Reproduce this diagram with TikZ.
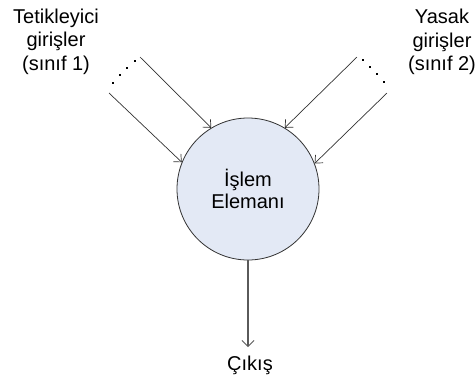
\documentclass[tikz,border=0pt]{standalone}
\usepackage{fontspec}
\setmainfont{Liberation Sans}
\usetikzlibrary{arrows.meta}
\definecolor{peFill}{RGB}{227,233,245}
\definecolor{lineGray}{RGB}{50,50,50}
\definecolor{outGray}{RGB}{90,90,90}
\tikzset{
  label text/.style={align=center, inner sep=0pt, font=\fontsize{20}{23.5}\selectfont},
  unit/.style={circle, draw=lineGray, line width=0.8pt, fill=peFill,
    minimum size=142pt, inner sep=0pt, align=center,
    font=\fontsize{20}{22}\selectfont},
  feed/.style={draw=lineGray, line width=0.7pt,
    -{Straight Barb[length=6pt,width=11pt,line width=0.7pt]}},
  outflow/.style={draw=outGray, line width=1.2pt,
    -{Straight Barb[length=6pt,width=12pt,line width=0.8pt]}},
  dotmark/.style={fill=black}
}
\begin{document}
\begin{tikzpicture}[x=1pt,y=-1pt]
\useasboundingbox (0,0) rectangle (475,381);

% processing element
\node[unit] (pe) at (248,189) {İşlem\\Elemanı};

% input group labels
\node[label text, anchor=north] (trig) at (56,8.5) {Tetikleyici\\girişler\\(sınıf 1)};
\node[label text, anchor=north] (forb) at (442,9) {Yasak\\girişler\\(sınıf 2)};

% output label
\node[label text, anchor=north] (out) at (250,355.5) {Çıkış};

% start points of the input connectors
\coordinate (tA) at (140,57);
\coordinate (tB) at (109,93);
\coordinate (fA) at (357,57);
\coordinate (fB) at (387,93);
\coordinate (tip) at (248,347);

% excitatory inputs
\draw[feed] (tA) -- (pe.121);
\draw[feed] (tB) -- (pe.158.5);
% inhibitory inputs
\draw[feed] (fA) -- (pe.59);
\draw[feed] (fB) -- (pe.21);

% output
\draw[outflow] (pe.south) -- (tip);

% ellipsis dots between the inputs
\foreach \x/\y in {112/82, 119/74, 126/67, 134/60}
  \fill[dotmark] (\x,\y) rectangle ++(2,2);
\foreach \x/\y in {362/59, 369/66, 376/73, 383/81}
  \fill[dotmark] (\x,\y) rectangle ++(2,2);
\end{tikzpicture}
\end{document}
